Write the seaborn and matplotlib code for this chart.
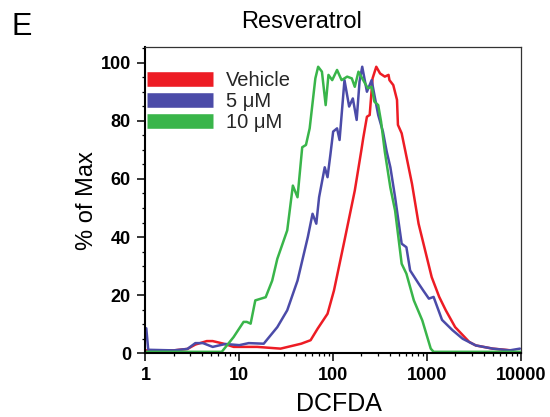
import numpy as np
import pandas as pd
import matplotlib
matplotlib.use("Agg")
import matplotlib.pyplot as plt
from matplotlib.lines import Line2D
from matplotlib.ticker import LogLocator, FixedLocator, MultipleLocator, NullFormatter
import seaborn as sns

# ---- data ----
series_names = ["Vehicle", "5 μM", "10 μM"]
colors = ["#ed1c24", "#4b4ba8", "#39b54a"]

vehicle_x = [1, 2, 2.8, 3.4, 4.5, 5.2, 6.8, 8.7, 15.5, 27.5, 45.7, 57.5, 68.4, 87.1,
             102, 132, 170, 200, 209, 229, 245, 263, 288, 316, 355, 389, 398, 437,
             479, 490, 537, 589, 692, 813, 955, 1122, 1349, 1585, 1995, 2818, 3311,
             5012, 7943]
vehicle_y = [1.0, 1.0, 1.5, 3.0, 4.2, 4.2, 3.3, 2.2, 2.2, 1.6, 3.3, 4.5, 8.5, 13.6,
             21.6, 38.8, 56, 70, 74, 81.4, 82, 94.6, 98.6, 96.3, 95.2, 95.8, 94, 92.3,
             87.2, 78.6, 75.7, 69.4, 58.3, 44.6, 35.4, 26.2, 19.4, 14.8, 9, 3.9, 2.7,
             1.6, 1.0]

uM5_x = [1, 1.02, 1.07, 2.0, 2.8, 3.4, 4.1, 5.2, 7.1, 10, 12.6, 18.2, 25.4, 32.4,
         41.7, 53.7, 60.3, 66.1, 70.8, 81.3, 87.1, 93.3, 100, 110, 117, 132, 148,
         162, 178, 191, 204, 229, 257, 275, 302, 339, 372, 407, 457, 537, 603, 661,
         813, 912, 1047, 1175, 1445, 1862, 2399, 3311, 5012, 7586, 9772]
uM5_y = [8.6, 8.6, 1.2, 1.0, 1.5, 3.5, 3.5, 2.2, 3.2, 2.8, 3.5, 3.3, 9, 14.8,
         25, 40, 48, 44.6, 53.7, 64, 60.6, 68.2, 76.3, 77.4, 73.4, 94, 84.9,
         87.7, 80.3, 93.5, 98.6, 90, 94, 88.9, 82, 76.3, 69.4, 64, 53.7, 37.7, 36.5, 28.5,
         24, 21.6, 18.8, 19.4, 11.5, 8, 5, 2.7, 1.6, 1.0, 1.6]

uM10_x = [1, 3.2, 6.5, 8.7, 10.2, 11.1, 12.0, 13.2, 14.8, 19.1, 22.4, 25.4, 32.4,
          37.2, 41.7, 46.8, 51.3, 56.2, 64.6, 69.2, 75.9, 83.2, 89.1, 97.7, 110, 123,
          141, 158, 170, 186, 209, 234, 257, 275, 302, 324, 355, 407, 457, 537, 603,
          724, 891, 1096, 1175, 10000]
uM10_y = [0.5, 0.5, 0.5, 5.6, 9, 10.8, 10.8, 10.2, 18.2, 19.3, 25, 32.5, 42.3,
          57.7, 53.7, 70.9, 71.7, 77.4, 94.6, 98.6, 96.9, 85.4, 95.8, 94, 97.5, 94,
          95.2, 94.6, 91.7, 96.9, 94, 91.2, 91.7, 86.6, 85.4, 79.7, 69.4, 57, 49.1, 30.8, 27.4,
          18.2, 11.3, 1.6, 0.5, 0.5]

x_ticks = [1, 10, 100, 1000, 10000]
x_ticklabels = ["1", "10", "100", "1000", "10000"]
y_ticks = [0, 20, 40, 60, 80, 100]

df = pd.concat([
    pd.DataFrame({"DCFDA": vehicle_x, "pct": vehicle_y, "group": series_names[0]}),
    pd.DataFrame({"DCFDA": uM5_x, "pct": uM5_y, "group": series_names[1]}),
    pd.DataFrame({"DCFDA": uM10_x, "pct": uM10_y, "group": series_names[2]}),
], ignore_index=True)

sns.set_theme(style="ticks")
plt.rcParams["font.family"] = ["Liberation Sans", "DejaVu Sans"]

fig = plt.figure(figsize=(5.5, 4.17), dpi=100)
ax = fig.add_axes([0.2645, 0.1528, 0.6825, 0.7345])

sns.lineplot(data=df, x="DCFDA", y="pct", hue="group", hue_order=series_names,
             palette=colors, estimator=None, sort=False, linewidth=1.8,
             legend=False, ax=ax)

ax.set_xscale("log")
ax.set_xlim(1, 10000)
ax.set_ylim(0, 105.4)
ax.xaxis.set_major_locator(FixedLocator(x_ticks))
ax.set_xticklabels(x_ticklabels)
ax.xaxis.set_minor_locator(LogLocator(base=10, subs=np.arange(2, 10)))
ax.xaxis.set_minor_formatter(NullFormatter())
ax.set_yticks(y_ticks)
ax.yaxis.set_minor_locator(MultipleLocator(5))

for lab in ax.get_xticklabels() + ax.get_yticklabels():
    lab.set_fontweight("bold")
    lab.set_fontsize(13)
    lab.set_color("black")

ax.tick_params(axis="both", which="major", direction="out", length=5.5, width=1.1,
               color="black")
ax.tick_params(axis="x", which="major", pad=4.5)
ax.tick_params(axis="y", which="major", pad=5)
ax.tick_params(axis="both", which="minor", direction="out", length=2.5, width=0.9,
               color="black")

for side in ["left", "bottom"]:
    ax.spines[side].set_linewidth(1.5)
    ax.spines[side].set_color("black")
for side in ["top", "right"]:
    ax.spines[side].set_visible(True)
    ax.spines[side].set_linewidth(0.9)
    ax.spines[side].set_color("#333333")

ax.set_xlabel("DCFDA", fontsize=18, color="black")
ax.xaxis.set_label_coords(0.515, -0.125)
ax.set_ylabel("% of Max", fontsize=17, color="black")
ax.yaxis.set_label_coords(-0.1265, 0.5)
fig.text(302 / 550, 0.947, "Resveratrol", fontsize=17, color="black",
         ha="center", va="center")
fig.text(0.02, 0.935, "E", fontsize=22, color="black", ha="left", va="center")

handles = [Line2D([0], [0], color=c, lw=10.5, solid_capstyle="butt") for c in colors]
leg = ax.legend(handles, series_names, loc="upper left", bbox_to_anchor=(0.005, 0.92),
                frameon=False, fontsize=14.5, handlelength=3.25, handletextpad=0.65,
                labelspacing=0.08, borderpad=0, borderaxespad=0)

fig.savefig("out.png", dpi=100)
